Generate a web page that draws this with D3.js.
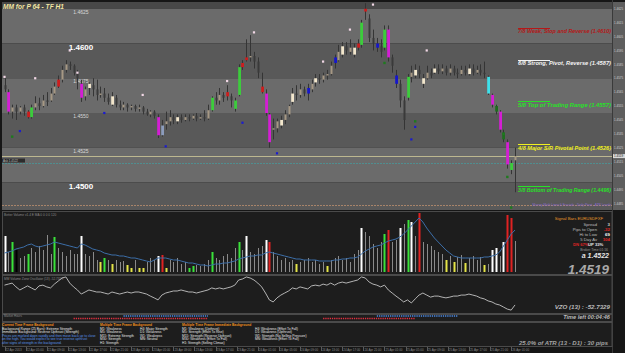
<!DOCTYPE html>
<html lang="en">
<head>
<meta charset="utf-8">
<title>MM for P 64 - TF H1</title>
<script src="https://cdn.jsdelivr.net/npm/d3@7"></script>
<style>
  body { margin: 0; background: #161616; }
  svg text { font-family: "Liberation Sans", Arial, sans-serif; }
</style>
</head>
<body>
<script>
// ---- price bars (EURUSD H1) ----
var opens = [1.4570,1.4565,1.4551,1.4554,1.4551,1.4554,1.4551,1.4547,1.4554,1.4557,
  1.4555,1.4559,1.4559,1.4564,1.4569,1.4574,1.4581,1.4585,1.4584,1.4579,
  1.4571,1.4562,1.4568,1.4570,1.4567,1.4563,1.4564,1.4561,1.4556,1.4561,
  1.4556,1.4554,1.4556,1.4554,1.4555,1.4553,1.4554,1.4551,1.4549,1.4551,
  1.4547,1.4534,1.4542,1.4544,1.4547,1.4544,1.4547,1.4545,1.4547,1.4546,
  1.4548,1.4546,1.4547,1.4546,1.4552,1.4561,1.4559,1.4563,1.4565,1.4562,
  1.4553,1.4563,1.4583,1.4588,1.4590,1.4591,1.4587,1.4569,1.4564,1.4549,
  1.4538,1.4539,1.4541,1.4545,1.4549,1.4558,1.4564,1.4563,1.4567,1.4568,
  1.4567,1.4572,1.4575,1.4574,1.4577,1.4578,1.4590,1.4588,1.4592,1.4598,
  1.4594,1.4592,1.4597,1.4599,1.4625,1.4618,1.4604,1.4600,1.4598,1.4597,
  1.4610,1.4590,1.4577,1.4571,1.4559,1.4561,1.4576,1.4577,1.4581,1.4571,
  1.4575,1.4579,1.4579,1.4582,1.4580,1.4582,1.4579,1.4582,1.4579,1.4578,
  1.4581,1.4578,1.4582,1.4579,1.4581,1.4579,1.4576,1.4563,1.4555,1.4551,
  1.4536,1.4529,1.4509,1.4516];
var highs = [1.4575,1.4567,1.4556,1.4556,1.4555,1.4556,1.4552,1.4556,1.4562,1.4561,
  1.4563,1.4565,1.4568,1.4572,1.4577,1.4584,1.4588,1.4587,1.4585,1.4581,
  1.4574,1.4569,1.4572,1.4575,1.4574,1.4569,1.4568,1.4564,1.4565,1.4563,
  1.4559,1.4558,1.4557,1.4556,1.4556,1.4556,1.4555,1.4553,1.4552,1.4552,
  1.4549,1.4545,1.4551,1.4552,1.4549,1.4549,1.4549,1.4549,1.4549,1.4549,
  1.4550,1.4549,1.4552,1.4556,1.4562,1.4565,1.4568,1.4565,1.4570,1.4564,
  1.4561,1.4585,1.4588,1.4603,1.4606,1.4594,1.4590,1.4579,1.4567,1.4550,
  1.4546,1.4546,1.4548,1.4552,1.4556,1.4568,1.4570,1.4571,1.4569,1.4571,
  1.4574,1.4578,1.4578,1.4579,1.4581,1.4587,1.4592,1.4599,1.4601,1.4601,
  1.4603,1.4600,1.4603,1.4617,1.4629,1.4621,1.4610,1.4604,1.4603,1.4613,
  1.4613,1.4592,1.4581,1.4574,1.4562,1.4578,1.4584,1.4585,1.4584,1.4578,
  1.4584,1.4582,1.4585,1.4585,1.4585,1.4584,1.4585,1.4584,1.4582,1.4584,
  1.4584,1.4585,1.4585,1.4584,1.4585,1.4587,1.4577,1.4564,1.4556,1.4552,
  1.4538,1.4531,1.4516,1.4525];
var lows = [1.4565,1.4549,1.4546,1.4545,1.4549,1.4548,1.4546,1.4546,1.4552,1.4552,
  1.4554,1.4555,1.4558,1.4563,1.4568,1.4572,1.4579,1.4581,1.4577,1.4567,
  1.4558,1.4559,1.4563,1.4562,1.4559,1.4561,1.4558,1.4556,1.4555,1.4554,
  1.4552,1.4552,1.4551,1.4552,1.4551,1.4551,1.4549,1.4548,1.4547,1.4546,
  1.4532,1.4533,1.4538,1.4541,1.4542,1.4542,1.4543,1.4544,1.4544,1.4545,
  1.4544,1.4545,1.4544,1.4545,1.4551,1.4556,1.4556,1.4558,1.4559,1.4554,
  1.4551,1.4562,1.4581,1.4587,1.4587,1.4582,1.4575,1.4564,1.4548,1.4525,
  1.4531,1.4536,1.4539,1.4542,1.4547,1.4556,1.4559,1.4561,1.4562,1.4559,
  1.4565,1.4569,1.4571,1.4572,1.4574,1.4577,1.4582,1.4587,1.4590,1.4592,
  1.4592,1.4590,1.4595,1.4597,1.4617,1.4601,1.4595,1.4594,1.4590,1.4595,
  1.4587,1.4579,1.4568,1.4554,1.4538,1.4559,1.4572,1.4575,1.4575,1.4568,
  1.4574,1.4575,1.4578,1.4578,1.4578,1.4577,1.4577,1.4577,1.4575,1.4577,
  1.4577,1.4577,1.4577,1.4578,1.4577,1.4575,1.4563,1.4554,1.4549,1.4536,
  1.4529,1.4510,1.4506,1.4493];
var closes = [1.4567,1.4551,1.4554,1.4551,1.4554,1.4551,1.4547,1.4554,1.4557,1.4555,
  1.4559,1.4558,1.4564,1.4569,1.4574,1.4581,1.4585,1.4584,1.4579,1.4575,
  1.4561,1.4567,1.4571,1.4567,1.4563,1.4564,1.4561,1.4558,1.4562,1.4556,
  1.4554,1.4556,1.4554,1.4555,1.4553,1.4554,1.4551,1.4549,1.4551,1.4548,
  1.4534,1.4541,1.4544,1.4547,1.4545,1.4547,1.4545,1.4547,1.4546,1.4548,
  1.4546,1.4547,1.4546,1.4552,1.4561,1.4559,1.4563,1.4561,1.4562,1.4559,
  1.4559,1.4583,1.4586,1.4590,1.4591,1.4587,1.4579,1.4565,1.4550,1.4529,
  1.4539,1.4544,1.4545,1.4549,1.4555,1.4564,1.4563,1.4567,1.4564,1.4564,
  1.4571,1.4575,1.4574,1.4577,1.4578,1.4584,1.4586,1.4594,1.4598,1.4595,
  1.4597,1.4597,1.4600,1.4615,1.4623,1.4604,1.4600,1.4597,1.4594,1.4610,
  1.4590,1.4584,1.4571,1.4559,1.4545,1.4576,1.4579,1.4581,1.4578,1.4575,
  1.4579,1.4577,1.4582,1.4580,1.4582,1.4579,1.4582,1.4579,1.4578,1.4581,
  1.4579,1.4582,1.4579,1.4581,1.4579,1.4578,1.4564,1.4556,1.4551,1.4538,
  1.4531,1.4513,1.4514,1.4519];
// signal colour per bar (u/d = plain bar)
var barSignals = "dmududrgud" + "uduuruuddd" + "muwdduddwd" + "dudududdud" + "meuudwdudu" +
  "dudugdudrd" + "ggrrdddrmm" + "uuwuuwdudb" + "uwduuubuwd" + "uwrgrddbdg" +
  "mdbddguwdw" + "udwdududdu" + "dwduddcmkm" + "kmgu";

// ---- Better Volume ----
var volumes = [3600,2000,3000,2200,1400,1600,1800,2400,2000,2600,
  2200,3700,1800,3500,2400,2000,1600,2200,1800,1800,
  3600,1800,1600,2000,1200,1000,1400,1200,800,1200,
  1000,1100,700,400,1200,400,400,1000,1400,1200,
  1600,1700,400,1200,1000,1400,800,1000,400,600,
  700,600,800,1200,2000,1400,1200,1600,1800,1400,
  2400,3000,2200,3600,2000,1800,2400,2600,3200,3000,
  2000,1600,1200,1400,1000,1200,800,1000,1200,1400,
  1000,1200,800,1000,600,1200,1400,1600,1200,1400,
  1000,1800,2200,4400,4000,3600,2800,2400,3000,3800,
  4200,3000,3200,4400,4800,5200,5000,3600,5900,3000,
  2800,2600,2200,2000,1800,1200,1600,1000,1500,1700,
  900,1400,1600,1200,1500,700,800,2200,2400,1600,
  3000,5700,5400,3100];
var volSignals = "wnganngnnn" + "nnngnnnnnn" + "wnnnnygnyn" + "nnyynyynnn" + "wrynnnnngg" +
  "nnnngnnnnn" + "ngnwnnnnwr" + "nnnnnnynnn" + "nnnnynnnnn" + "nnnwnnnnng" +
  "rnnwngwnrn" + "nnnnnynynn" + "ynnnnynwwn" + "wrrn";
var volAverage = [1900,2000,2100,2300,2400,2500,2700,2800,2600,2500,
  2600,2700,2800,3000,2900,2800,2700,2600,2500,2400,
  2800,2700,2500,2300,2200,2100,1900,1800,1700,1700,
  1600,1600,1500,1400,1400,1300,1200,1100,1000,1200,
  1400,1400,1400,1300,1200,1200,1100,1000,900,900,
  800,700,700,600,700,800,800,900,900,1000,
  1100,1300,1400,1500,1600,1600,1700,1700,1900,2000,
  1900,1800,1700,1600,1500,1400,1300,1300,1200,1200,
  1200,1200,1100,1100,1100,1100,1200,1200,1300,1300,
  1400,1400,1500,1800,2100,2300,2500,2600,2700,2900,
  3100,3200,3300,3500,3800,4200,4600,5000,5400,5000,
  4400,3900,3400,3000,2600,2200,1900,1600,1500,1400,
  1400,1400,1400,1400,1400,1500,1500,1600,1700,2000,
  2600,3200,3800,4200];

// ---- Volume Zone Oscillator (13) ----
var vzo = [25,29,33,18,6,14,22,14,6,22,
  25,18,14,29,41,53,57,33,18,6,
  -10,-2,6,2,-2,-2,-6,-10,-2,-6,
  -10,-6,-2,-6,-2,-2,-6,-10,-18,-25,
  -33,-14,-6,-2,2,2,6,2,-2,-2,
  -6,-2,2,6,14,10,14,10,14,18,
  25,45,49,57,53,45,33,18,-6,-33,
  -41,-25,-14,-6,2,14,10,18,14,10,
  22,25,22,29,25,33,25,33,37,33,
  37,41,45,57,53,37,29,25,18,25,
  6,-6,-18,-29,-41,-33,-45,-29,-14,-6,
  -14,-22,-18,-18,-22,-25,-22,-18,-18,-14,
  -14,-10,-14,-18,-25,-29,-37,-41,-49,-53,
  -61,-69,-73,-52.7329];

// ---- fractals ----
var upFractalBar = [0,8,17,19,36,58,65,83,90,96,110];
var upFractalPrice = [1.4576,1.4575,1.4595,1.4579,1.4563,1.4573,1.4608,1.4587,1.4610,1.4628,1.4595];
var dnFractalBar = [4,26,42,62,71,106,107];
var dnFractalPrice = [1.4537,1.4550,1.4526,1.4543,1.4521,1.4531,1.4540];
var greenDotBar = [2,99,107,130,131,132];
var greenDotPrice = [1.4533,1.4586,1.4544,1.4535,1.4504,1.4482];

// ---- levels ----
var bandLevels = [1.4650,1.4625,1.4600,1.4575,1.4550,1.4525,1.4500,1.4475];
var levelLabels = ["1.4625","1.4600","1.4575","1.4550","1.4525","1.4500"];
var murreyNames = ["7/8 Weak, Stop and Reverse","6/8 Strong, Pivot, Reverse","5/8 Top of Trading Range",
  "4/8 Major S/R Pivotal Point","3/8 Bottom of Trading Range"];
var murreyPrices = [1.4610,1.4587,1.4557,1.4526,1.4496];
var murreyColors = ["#b41818","#f4f4f4","#28e028","#f0f020","#28e028"];
var bidPrice = 1.4519, askPrice = 1.4522, dayOpenLine = 1.4514, atrLine = 1.4484;
var axisPrices = [1.4625,1.4615,1.4605,1.4595,1.4585,1.4575,1.4565,1.4555,1.4545,1.4535,1.4525,1.4515,1.4505,1.4495,1.4485];

// ---- market hours (bar ranges) ----
var sessionBlue = [[31,53],[97,118]];
var sessionRed = [[18,53],[83,107]];

// ---- info box ----
var infoLabels = ["Spread","Pips to Open","Hi to Low","5 Day Av"];
var infoValues = ["3","-32","69","104"];
var infoColors = ["#cfcfcf","#e02424","#ffffff","#e02424"];

// ---- legend ----
var ctfLines = ["Background Range (25 Bars): Extreme Strength","Immediate Background: Reverse Upthrust (Strength)"];
var ctfNotes = ["Prices are marked down rapidly and then move back up to close","on the high. You would expect to see true reverse upthrust","after signs of strength in the background."];
var mtfCol1 = ["M1:  Weakness","M5:  Weakness","M15: Extreme Strength","M30: Strength","H1:  Strength"];
var mtfCol2 = ["H4:  Major Strength","D1:  Weakness","W1:  Weakness","MN:  Neutral"];
var mtiCol1 = ["M1:  Weakness (Upthrust)","M5:  Strength (Effort To Rise)","M15: Strength (Reverse Upthrust)","M30: Weakness (Effort To Fall)","H1:  Strength (Selling Climax)"];
var mtiCol2 = ["H4:  Weakness (Effort To Fall)","D1:  Weakness (Upthrust)","W1:  Strength (No Selling Pressure)","MN:  Weakness (Effort To Fall)"];

var timeLabels = ["22 Apr 2013","22 Apr 05:00","22 Apr 09:00","22 Apr 13:00","22 Apr 17:00","22 Apr 21:00",
  "23 Apr 01:00","23 Apr 05:00","23 Apr 09:00","23 Apr 13:00","23 Apr 17:00","23 Apr 21:00",
  "24 Apr 01:00","24 Apr 05:00","24 Apr 09:00","24 Apr 13:00","24 Apr 17:00","24 Apr 21:00",
  "25 Apr 01:00","25 Apr 05:00","25 Apr 09:00","25 Apr 13:00","25 Apr 17:00","25 Apr 21:00","26 Apr 01:00"];

// =====================================================
var W = 625, H = 353,
    plotR = 612,
    main = {top: 2, bottom: 210},
    volP = {top: 211, bottom: 274},
    vzoP = {top: 275, bottom: 313},
    mhP = {top: 314, bottom: 321},
    legP = {top: 322, bottom: 346};

var svg = d3.select("body").append("svg").attr("width", W).attr("height", H);
svg.append("rect").attr("width", W).attr("height", H).attr("fill", "#161616");

var bars = d3.range(closes.length);
var x = d3.scaleLinear().domain([0, closes.length - 1]).range([4.5, 515]);
var y = d3.scaleLinear().domain([1.4500, 1.4600]).range([182.5, 43.5]);

var defs = svg.append("defs");
defs.append("clipPath").attr("id", "mainClip").append("rect")
  .attr("x", 2).attr("y", main.top).attr("width", plotR - 2).attr("height", main.bottom - main.top);

var mg = svg.append("g").attr("clip-path", "url(#mainClip)");

// background bands
mg.selectAll("rect.band").data(d3.range(bandLevels.length - 1)).enter().append("rect")
  .attr("x", 2).attr("width", plotR - 2)
  .attr("y", function(k) { return y(bandLevels[k]); })
  .attr("height", function(k) { return y(bandLevels[k + 1]) - y(bandLevels[k]); })
  .attr("fill", function(k) { return k === 0 ? "#484848" : (k % 2 ? "#6b6b6b" : "#595959"); });

// round-number labels
mg.selectAll("text.lvl").data(levelLabels).enter().append("text")
  .attr("x", 81).attr("text-anchor", "middle")
  .attr("y", function(d) { return y(+d) + (/00$/.test(d) ? 6.5 : 5); })
  .attr("font-size", function(d) { return /00$/.test(d) ? 8 : 5; })
  .attr("font-weight", function(d) { return /00$/.test(d) ? "bold" : "normal"; })
  .attr("fill", function(d) { return /00$/.test(d) ? "#ffffff" : "#d8d8d8"; })
  .text(function(d) { return d; });

// horizontal reference lines
mg.append("line").attr("x1", 2).attr("x2", plotR)
  .attr("y1", Math.round(y(bidPrice)) + 0.5).attr("y2", Math.round(y(bidPrice)) + 0.5)
  .attr("stroke", "#bdb890").attr("stroke-width", 1);
mg.append("line").attr("x1", 2).attr("x2", plotR)
  .attr("y1", Math.round(y(dayOpenLine)) + 0.5).attr("y2", Math.round(y(dayOpenLine)) + 0.5)
  .attr("stroke", "#4f8e90").attr("stroke-width", 1.2).attr("stroke-dasharray", "2,1");
mg.append("line").attr("x1", 2).attr("x2", plotR)
  .attr("y1", Math.round(y(atrLine)) + 0.5).attr("y2", Math.round(y(atrLine)) + 0.5)
  .attr("stroke", "#a8846a").attr("stroke-width", 1.2).attr("stroke-dasharray", "2,1");

// small ask tag on the left
mg.append("rect").attr("x", 2).attr("y", y(dayOpenLine) - 4.5).attr("width", 23).attr("height", 4)
  .attr("fill", "#2c2c2c");
mg.append("text").attr("x", 3).attr("y", y(dayOpenLine) - 1.5).attr("font-size", 3)
  .attr("fill", "#bbbbbb").text("Ask " + askPrice.toFixed(4));

// candles
var sigColor = {m: "#d41ed4", g: "#3ccc3c", r: "#cc1e1e", b: "#1616cc", w: "#f2e6cc",
                c: "#3ee0ea", k: "#1e6e1e", e: "#8c9cbc"};
function bodyColor(i) {
  var s = barSignals[i];
  if (sigColor[s]) return sigColor[s];
  return closes[i] >= opens[i] ? "#a69884" : "#3a3a3a";
}
mg.selectAll("line.wick").data(bars).enter().append("line")
  .attr("x1", function(i) { return Math.round(x(i)) + 0.5; })
  .attr("x2", function(i) { return Math.round(x(i)) + 0.5; })
  .attr("y1", function(i) { return y(highs[i]); })
  .attr("y2", function(i) { return y(lows[i]); })
  .attr("stroke", "#353535").attr("stroke-width", 1);
mg.selectAll("rect.body").data(bars).enter().append("rect")
  .attr("x", function(i) { return Math.round(x(i)) - (sigColor[barSignals[i]] ? 0.8 : 0.5); })
  .attr("width", function(i) { return sigColor[barSignals[i]] ? 2.8 : 2; })
  .attr("y", function(i) { return y(Math.max(opens[i], closes[i])); })
  .attr("height", function(i) { return Math.max(1, Math.abs(y(opens[i]) - y(closes[i]))); })
  .attr("fill", bodyColor);

// fractal dots
function dots(bi, pr, fill, r) {
  mg.selectAll(null).data(bi).enter().append("rect")
    .attr("x", function(b) { return x(b) - r; })
    .attr("y", function(b, k) { return y(pr[k]) - r; })
    .attr("width", 2 * r).attr("height", 2 * r).attr("fill", fill);
}
dots(upFractalBar, upFractalPrice, "#f2d8e6", 1.1);
dots(dnFractalBar, dnFractalPrice, "#1a1ad0", 1.1);
dots(greenDotBar, greenDotPrice, "#1f7a1f", 1.2);

// murrey labels
murreyPrices.forEach(function(p, k) {
  var yy = y(p);
  mg.append("line").attr("x1", 518).attr("x2", 550)
    .attr("y1", Math.round(yy - 2) + 0.5).attr("y2", Math.round(yy - 2) + 0.5)
    .attr("stroke", murreyColors[k]).attr("stroke-width", 1);
  mg.append("text").attr("x", 611).attr("y", yy + 3.5).attr("text-anchor", "end")
    .attr("font-size", 5.3).attr("font-weight", "bold").attr("font-style", "italic")
    .attr("fill", murreyColors[k]).attr("textLength", 93).attr("lengthAdjust", "spacingAndGlyphs")
    .text(murreyNames[k] + "  (" + p.toFixed(4) + ")");
});
mg.append("text").attr("x", 611).attr("y", y(atrLine) + 1.5).attr("text-anchor", "end")
  .attr("font-size", 3.2).attr("fill", "#8a6ad0").text("Murrey Math Lines & Fractals - Daily Pivot - ATR Levels");

// title
svg.append("text").attr("x", 3).attr("y", 9).attr("font-size", 6.6).attr("font-weight", "bold")
  .attr("font-style", "italic").attr("fill", "#f2e6a4").text("MM for P 64 - TF H1");

// right price axis
svg.append("rect").attr("x", plotR).attr("y", main.top).attr("width", W - plotR).attr("height", main.bottom - main.top)
  .attr("fill", "#5e5e5e");
svg.append("line").attr("x1", plotR + 0.5).attr("x2", plotR + 0.5).attr("y1", 0).attr("y2", H)
  .attr("stroke", "#3a3a3a");
svg.selectAll("text.ax").data(axisPrices).enter().append("text")
  .attr("x", plotR + 2).attr("y", function(p) { return y(p) + 1.2; })
  .attr("font-size", 3).attr("fill", "#d0d0d0").text(function(p) { return p.toFixed(4); });
svg.append("rect").attr("x", plotR + 1).attr("y", y(bidPrice) - 2).attr("width", 12).attr("height", 4)
  .attr("fill", "#d8d8d8");
svg.append("text").attr("x", plotR + 2).attr("y", y(bidPrice) + 1.2).attr("font-size", 3)
  .attr("fill", "#222").text(bidPrice.toFixed(4));

// panel frames
[volP, vzoP, mhP, legP].forEach(function(p) {
  svg.append("rect").attr("x", 2.5).attr("y", p.top + 0.5).attr("width", plotR - 2.5)
    .attr("height", p.bottom - p.top).attr("fill", "#1d1d1d").attr("stroke", "#4a4a4a").attr("stroke-width", 1);
});

// ---- volume panel ----
var vy = d3.scaleLinear().domain([0, 5900]).range([272, 213]);
var volColor = {w: "#ffffff", g: "#3ae23a", y: "#e4e448", r: "#e02222", n: "#8a8a8a"};
svg.append("text").attr("x", 4).attr("y", 216).attr("font-size", 3.2).attr("fill", "#8a8a8a")
  .text("Better Volume v1.4 E MA 0 0 0 0 120");
svg.selectAll("rect.vol").data(bars).enter().append("rect")
  .attr("x", function(i) { return Math.round(x(i)) - (volSignals[i] === "n" ? 0 : 0.5); })
  .attr("width", function(i) { return volSignals[i] === "n" ? 1 : 2; })
  .attr("y", function(i) { return vy(volumes[i]); })
  .attr("height", function(i) { return vy(0) - vy(volumes[i]); })
  .attr("fill", function(i) { return volColor[volSignals[i]]; });
svg.append("path").datum(bars)
  .attr("d", d3.line().x(function(i) { return x(i); }).y(function(i) { return vy(volAverage[i]); }))
  .attr("fill", "none").attr("stroke", "#3c6ea8").attr("stroke-width", 1);

// info box
svg.append("text").attr("x", 603).attr("y", 220).attr("text-anchor", "end").attr("font-size", 4.2)
  .attr("fill", "#e89a2a").text("Signal Bars EURUSDFXF");
infoLabels.forEach(function(l, k) {
  svg.append("text").attr("x", 597).attr("y", 226 + k * 5).attr("text-anchor", "end").attr("font-size", 4.2)
    .attr("fill", "#bdbdbd").text(l);
  svg.append("text").attr("x", 610).attr("y", 226 + k * 5).attr("text-anchor", "end").attr("font-size", 4.4)
    .attr("font-weight", "bold").attr("fill", infoColors[k]).text(infoValues[k]);
});
svg.append("text").attr("x", 573).attr("y", 246).attr("font-size", 4.2).attr("font-weight", "bold")
  .attr("fill", "#e02424").text("DN 67%");
svg.append("text").attr("x", 588).attr("y", 246).attr("font-size", 4.2).attr("font-weight", "bold")
  .attr("fill", "#e6e6e6").text("UP 33%");
svg.append("text").attr("x", 608).attr("y", 250.5).attr("text-anchor", "end").attr("font-size", 3.4)
  .attr("fill", "#9a9a9a").text("Broker Time 01:16");
svg.append("text").attr("x", 609).attr("y", 257.5).attr("text-anchor", "end").attr("font-size", 7)
  .attr("font-weight", "bold").attr("font-style", "italic").attr("fill", "#e4e4e4").text("a " + askPrice.toFixed(4));
svg.append("text").attr("x", 609).attr("y", 273.5).attr("text-anchor", "end").attr("font-size", 13.5)
  .attr("font-weight", "bold").attr("font-style", "italic").attr("fill", "#a8a8a8").text(closes[closes.length - 1].toFixed(4));

// ---- VZO panel ----
var zy = d3.scaleLinear().domain([-100, 100]).range([317, 266]);
svg.append("text").attr("x", 4).attr("y", 280).attr("font-size", 3.2).attr("fill", "#8a8a8a")
  .text("MM Volume Zone Oscillator (13) " + vzo[vzo.length - 1].toFixed(4));
svg.append("path").datum(bars)
  .attr("d", d3.line().x(function(i) { return x(i); }).y(function(i) { return zy(vzo[i]); }))
  .attr("fill", "none").attr("stroke", "#c4c4c4").attr("stroke-width", 0.9);
svg.append("text").attr("x", 610).attr("y", 309).attr("text-anchor", "end").attr("font-size", 6.2)
  .attr("font-weight", "bold").attr("font-style", "italic").attr("fill", "#bcbcbc")
  .text("VZO (13) : " + vzo[vzo.length - 1].toFixed(4));

// ---- market hours ----
svg.append("text").attr("x", 4).attr("y", 317).attr("font-size", 3).attr("fill", "#8a8a8a").text("Market Hours");
function session(list, yy, col) {
  list.forEach(function(s) {
    svg.append("line").attr("x1", x(s[0])).attr("x2", x(s[1])).attr("y1", yy).attr("y2", yy)
      .attr("stroke", col).attr("stroke-width", 1.3).attr("stroke-dasharray", "1.3,0.9");
  });
}
session(sessionBlue, 316, "#4a8ae6");
session(sessionRed, 318.5, "#e03040");
svg.append("text").attr("x", 610).attr("y", 318.5).attr("text-anchor", "end").attr("font-size", 5.6)
  .attr("font-weight", "bold").attr("font-style", "italic").attr("fill", "#bcbcbc").text("Time left  00:04:46");

// ---- legend ----
var lg = svg.append("g").attr("font-size", 3.3);
function header(xx, t) {
  lg.append("text").attr("x", xx).attr("y", 326).attr("font-weight", "bold").attr("fill", "#f0901e").text(t);
}
function rows(xx, list, col, start) {
  lg.selectAll(null).data(list).enter().append("text")
    .attr("x", xx).attr("y", function(d, k) { return start + k * 3.6; })
    .attr("fill", col).text(function(d) { return d; });
}
header(2, "Current Time Frame Background");
rows(2, ctfLines, "#e8e8e8", 329.5);
rows(2, ctfNotes, "#5a94e6", 336.7);
header(100, "Multiple Time Frame Background");
rows(100, mtfCol1, "#e8e8e8", 329.5);
rows(140, mtfCol2, "#e8e8e8", 329.5);
header(182, "Multiple Time Frame Immediate Background");
rows(182, mtiCol1, "#e8e8e8", 329.5);
rows(255, mtiCol2, "#e8e8e8", 329.5);
svg.append("text").attr("x", 608).attr("y", 344.5).attr("text-anchor", "end").attr("font-size", 6)
  .attr("font-weight", "bold").attr("font-style", "italic").attr("fill", "#a4a4a4")
  .text("25.0% of ATR (13 - D1) : 30 pips");

// ---- time axis ----
svg.selectAll("text.tm").data(timeLabels).enter().append("text")
  .attr("x", function(d, k) { return x(k * 5.5) + 1; }).attr("y", 351)
  .attr("font-size", 3).attr("fill", "#8c8c8c").text(function(d) { return d; });
svg.selectAll("line.tm").data(timeLabels).enter().append("line")
  .attr("x1", function(d, k) { return Math.round(x(k * 5.5)) + 0.5; })
  .attr("x2", function(d, k) { return Math.round(x(k * 5.5)) + 0.5; })
  .attr("y1", 347).attr("y2", 351).attr("stroke", "#5a5a5a");
</script>
</body>
</html>
